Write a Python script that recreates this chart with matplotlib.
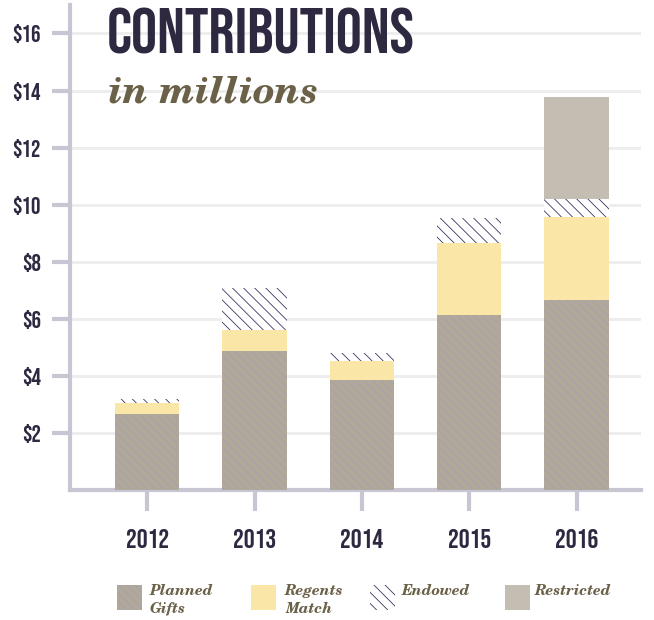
import matplotlib
matplotlib.use('Agg')
import matplotlib.pyplot as plt
from matplotlib.patches import Rectangle
import numpy as np

years = ['2012', '2013', '2014', '2015', '2016']
planned = [2.65, 4.85, 3.85, 6.12, 6.65]
regents = [0.40, 0.77, 0.68, 2.55, 2.93]
endowed = [0.12, 1.47, 0.27, 0.87, 0.60]
restricted = [0.0, 0.0, 0.0, 0.0, 3.61]
yticks = [2, 4, 6, 8, 10, 12, 14, 16]

series_names = ['Planned\nGifts', 'Regents\nMatch', 'Endowed', 'Restricted']

plt.rcParams['hatch.linewidth'] = 0.6
narrow = ['Bebas Neue', 'DejaVu Sans']
serif = ['TeX Gyre Schola', 'DejaVu Serif']
dark = '#2e2841'
olive = '#6b6148'
axcol = '#c9c6d4'

c_planned = '#b0a899'
c_regents = '#fae6a6'
c_restr = '#c4bdb2'
h_planned = '#a7a0b4'
h_endow = '#3b3563'

fig = plt.figure(figsize=(6.54, 6.2), dpi=100)
ax = fig.add_axes([0.107, 0.21, 0.873, 0.782])

x = np.arange(len(years))
w = 0.6
ax.bar(x, planned, w, color=c_planned, edgecolor=h_planned, linewidth=0,
       hatch='\\\\\\\\', zorder=3)
bot = np.array(planned)
ax.bar(x, regents, w, bottom=bot, color=c_regents, linewidth=0, zorder=3)
bot = bot + np.array(regents)
ax.bar(x, endowed, w, bottom=bot, color='white', edgecolor=h_endow, linewidth=0,
       hatch='\\\\\\', zorder=3)
bot = bot + np.array(endowed)
ax.bar(x, restricted, w, bottom=bot, color=c_restr, linewidth=0, zorder=3)

ax.set_xlim(-0.72, 4.6)
ax.set_ylim(0, 17)
for t in yticks:
    ax.axhline(t, color='#ededed', lw=2, zorder=1)

for s in ['top', 'right']:
    ax.spines[s].set_visible(False)
for s in ['left', 'bottom']:
    ax.spines[s].set_color(axcol)
    ax.spines[s].set_linewidth(3)

ax.set_yticks(yticks)
ax.set_yticklabels(['$%d' % v for v in yticks], family=narrow,
                   fontsize=17, color=dark)
ax.tick_params(axis='y', length=13, width=3, color=axcol, pad=8)
ax.set_xticks(x)
ax.set_xticklabels(years, family=narrow, fontsize=19.5, color=dark)
ax.tick_params(axis='x', length=15, width=3, color=axcol, pad=13)

fig.text(0.163, 0.987, 'CONTRIBUTIONS', family=narrow, fontsize=47,
         color=dark, va='top', ha='left')
fig.text(0.165, 0.835, 'in millions', family=serif, fontweight='bold', style='italic',
         fontsize=27, color=olive, va='baseline', ha='left')

# legend
fw, fh = 654.0, 620.0
leg_x = [117, 251, 370, 505]
lab_x = [150, 285, 402, 535]
styles = [dict(facecolor=c_planned, edgecolor=h_planned, hatch='\\\\\\\\'),
          dict(facecolor=c_regents, edgecolor=c_regents),
          dict(facecolor='white', edgecolor=h_endow, hatch='\\\\\\'),
          dict(facecolor=c_restr, edgecolor=c_restr)]
for lx, tx, st, name in zip(leg_x, lab_x, styles, series_names):
    r = Rectangle((lx / fw, 1 - 610 / fh), 25 / fw, 25 / fh, transform=fig.transFigure,
                  linewidth=0, **st)
    fig.patches.append(r)
    fig.text(tx / fw, 1 - 584 / fh, name, family=serif, fontweight='bold', style='italic',
             fontsize=10.5, color=olive, va='top', ha='left', linespacing=1.35)

fig.savefig('out.png', dpi=100)
